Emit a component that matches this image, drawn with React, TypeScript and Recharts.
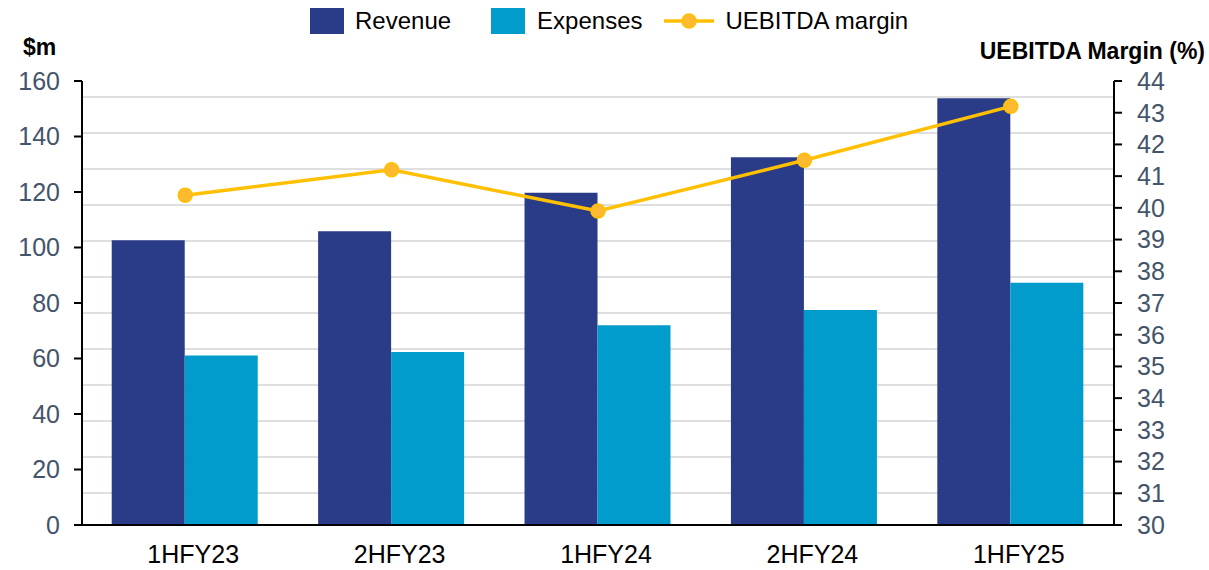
import React from 'react';
import {
  ComposedChart,
  Bar,
  Line,
  XAxis,
  YAxis,
  CartesianGrid,
} from 'recharts';

const categories = ['1HFY23', '2HFY23', '1HFY24', '2HFY24', '1HFY25'];
const revenue = [102.6, 105.9, 119.7, 132.5, 153.8];
const expenses = [61.1, 62.3, 72.0, 77.5, 87.3];
const margin = [40.4, 41.2, 39.9, 41.5, 43.2];
const leftTicks = [0, 20, 40, 60, 80, 100, 120, 140, 160];
const rightTicks = [30, 31, 32, 33, 34, 35, 36, 37, 38, 39, 40, 41, 42, 43, 44];

const data = categories.map((c, i) => ({
  name: c,
  revenue: revenue[i],
  expenses: expenses[i],
  margin: margin[i],
}));

const FONT = '"Liberation Sans", Arial, sans-serif';
const REV = '#2A3B88';
const EXP = '#019CCB';
const LINE = '#FFC000';
const DOT = '#FDBA30';
const TICK = '#44546A';

const LegendBox = () => (
  <div
    style={{
      position: 'absolute',
      left: 0,
      top: 0,
      width: 1209,
      display: 'flex',
      alignItems: 'center',
      fontFamily: FONT,
      fontSize: 24,
      color: '#000',
      paddingLeft: 310,
      height: 42,
      boxSizing: 'border-box',
    }}
  >
    <span style={{ width: 34, height: 26, background: REV, display: 'inline-block' }} />
    <span style={{ marginLeft: 11, marginRight: 40 }}>Revenue</span>
    <span style={{ width: 34, height: 26, background: EXP, display: 'inline-block' }} />
    <span style={{ marginLeft: 12, marginRight: 22 }}>Expenses</span>
    <svg width={50} height={20} style={{ display: 'inline-block' }}>
      <line x1={0} y1={10} x2={50} y2={10} stroke={LINE} strokeWidth={3.5} />
      <circle cx={25} cy={10} r={7} fill={DOT} stroke={LINE} strokeWidth={1.5} />
    </svg>
    <span style={{ marginLeft: 11 }}>UEBITDA margin</span>
  </div>
);

const XTick = (props: any) => {
  const { x, y, payload } = props;
  return (
    <text
      x={x + 8}
      y={y}
      textAnchor="middle"
      fontFamily={FONT}
      fontSize={25}
      fill="#000"
    >
      {payload.value}
    </text>
  );
};

const LeftTitle = (props: any) => {
  const { viewBox } = props;
  return (
    <text
      x={viewBox.x + 23}
      y={viewBox.y - 26}
      fontFamily={FONT}
      fontWeight="bold"
      fontSize={23}
      fill="#000"
    >
      $m
    </text>
  );
};

const RightTitle = (props: any) => {
  const { viewBox } = props;
  return (
    <text
      x={viewBox.x + viewBox.width - 4}
      y={viewBox.y - 22}
      textAnchor="end"
      fontFamily={FONT}
      fontWeight="bold"
      fontSize={23}
      fill="#000"
    >
      UEBITDA Margin (%)
    </text>
  );
};

const gridGen = ({ offset }: any) => {
  const bottom = offset.top + offset.height;
  const pts: number[] = [];
  for (let k = 0; k < 12; k++) pts.push(bottom - 32 - 36 * k);
  return pts;
};

export default function App() {
  return (
    <div style={{ position: 'absolute', left: 0, top: 0, width: 1209, height: 570, background: '#fff' }}>
      <ComposedChart
        width={1209}
        height={570}
        data={data}
        margin={{ top: 81, right: 0, bottom: 0, left: 0 }}
        barCategoryGap="14.4%"
        barGap={0}
      >
        <CartesianGrid
          vertical={false}
          stroke="#D4D4D4"
          strokeWidth={1.5}
          horizontalCoordinatesGenerator={gridGen}
        />
        <XAxis
          dataKey="name"
          height={45}
          tickLine={false}
          tickSize={0}
          tickMargin={38}
          axisLine={{ stroke: '#000', strokeWidth: 2 }}
          tick={<XTick />}
          interval={0}
        />
        <YAxis
          yAxisId="left"
          orientation="left"
          width={82}
          domain={[0, 160]}
          ticks={leftTicks}
          interval={0}
          tickSize={8}
          tickMargin={14}
          axisLine={{ stroke: '#000', strokeWidth: 2 }}
          tickLine={{ stroke: '#000', strokeWidth: 2 }}
          tick={{ fill: TICK, fontSize: 25, fontFamily: FONT }}
          label={<LeftTitle />}
        />
        <YAxis
          yAxisId="right"
          orientation="right"
          width={95}
          domain={[30, 44]}
          ticks={rightTicks}
          interval={0}
          tickSize={8}
          tickMargin={15}
          axisLine={{ stroke: '#000', strokeWidth: 2 }}
          tickLine={{ stroke: '#000', strokeWidth: 2 }}
          tick={{ fill: TICK, fontSize: 25, fontFamily: FONT }}
          label={<RightTitle />}
        />
        <Bar yAxisId="left" dataKey="revenue" name="Revenue" fill={REV} isAnimationActive={false} />
        <Bar yAxisId="left" dataKey="expenses" name="Expenses" fill={EXP} isAnimationActive={false} />
        <Line
          yAxisId="right"
          dataKey="margin"
          name="UEBITDA margin"
          stroke={LINE}
          strokeWidth={3.5}
          dot={{ r: 7, fill: DOT, stroke: LINE, strokeWidth: 1.5 }}
          activeDot={false}
          isAnimationActive={false}
        />
      </ComposedChart>
      <LegendBox />
    </div>
  );
}
